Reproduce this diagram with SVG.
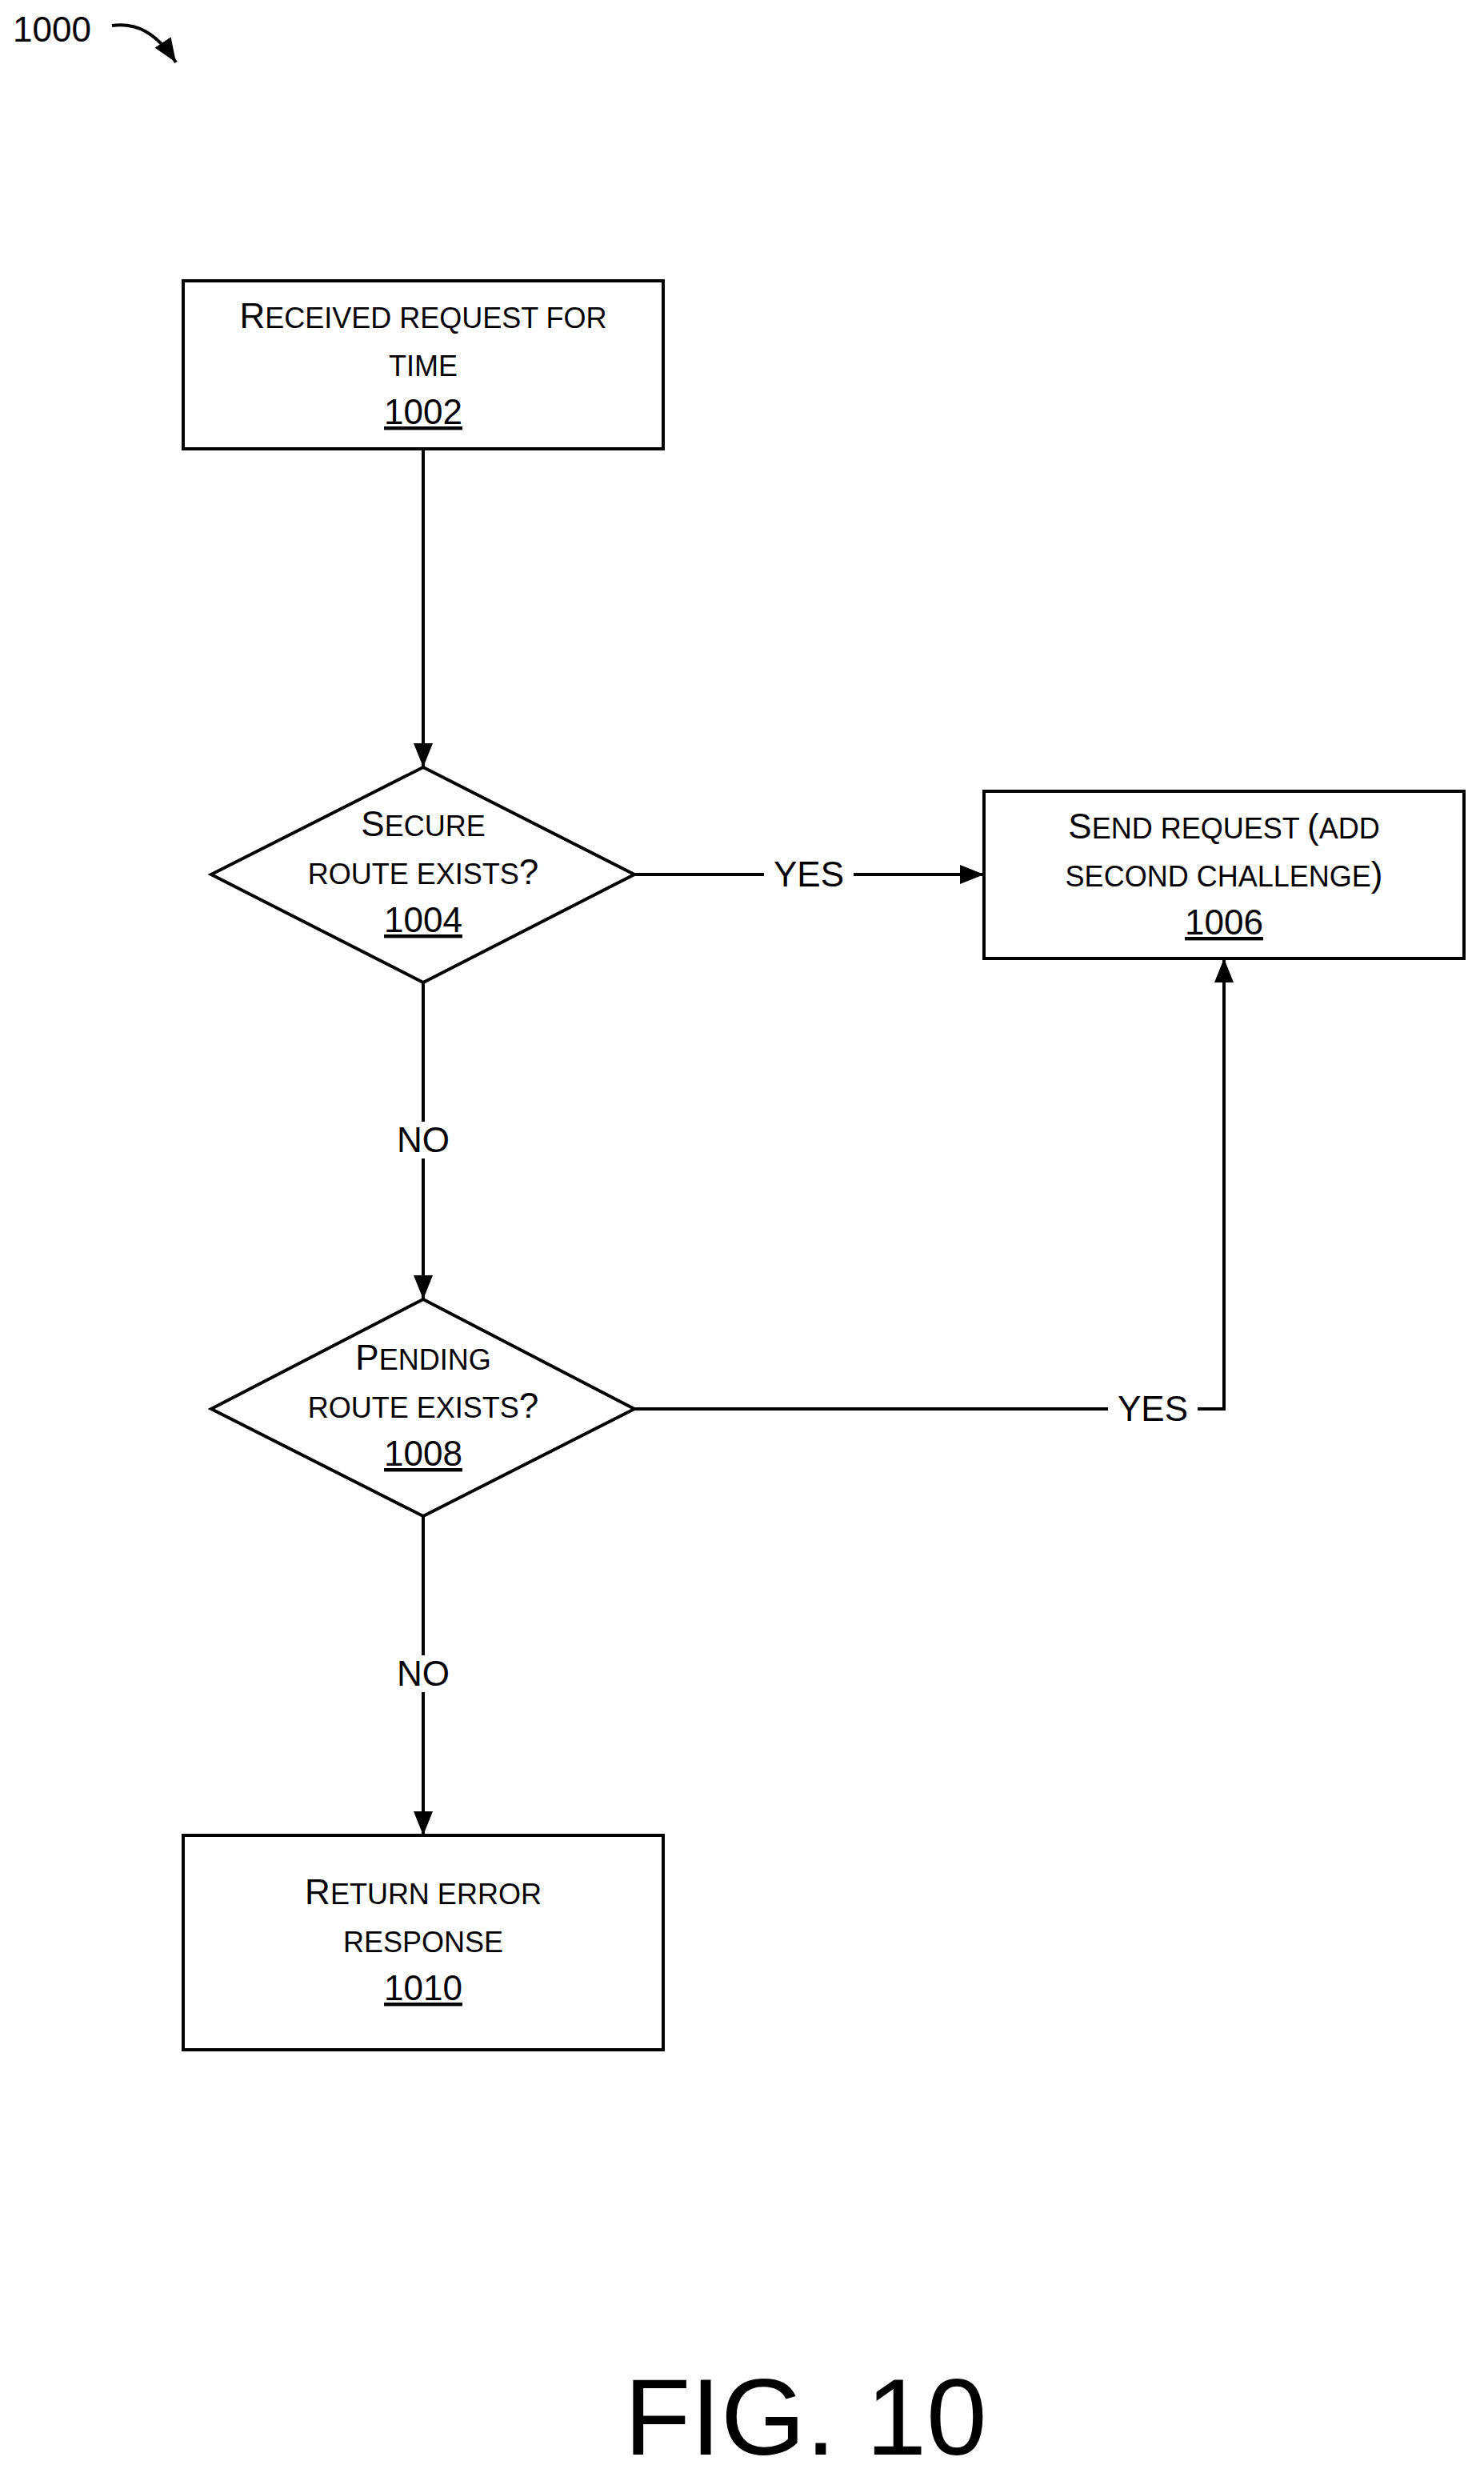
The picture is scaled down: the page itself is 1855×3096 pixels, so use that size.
<svg xmlns="http://www.w3.org/2000/svg" width="1855" height="3096" viewBox="0 0 1855 3096">
<style>
.s{fill:#fff;stroke:#000;stroke-width:4}
.l{fill:none;stroke:#000;stroke-width:4}
text{font-family:"Liberation Sans",Arial,sans-serif;fill:#000;text-anchor:middle;font-size:44px}
.sm{font-size:36px}
.u{text-decoration:underline}
.bg{fill:#fff}
</style>
<defs><marker id="a" markerWidth="10" markerHeight="8" refX="10" refY="4" orient="auto" markerUnits="userSpaceOnUse" viewBox="0 0 10 8"><path d="M0,0L10,4L0,8z"/></marker>
<marker id="ah" viewBox="0 0 10 8" refX="10" refY="4" markerWidth="30" markerHeight="24" orient="auto" markerUnits="userSpaceOnUse"><path d="M0,0L10,4L0,8z"/></marker></defs>
<rect width="1855" height="3096" fill="#fff"/>
<g id="connectors">
<line class="l" x1="529" y1="561" x2="529" y2="959" marker-end="url(#ah)"/>
<line class="l" x1="793" y1="1093" x2="1230" y2="1093" marker-end="url(#ah)"/>
<line class="l" x1="529" y1="1228" x2="529" y2="1624" marker-end="url(#ah)"/>
<polyline class="l" points="793,1761 1530,1761 1530,1198" marker-end="url(#ah)"/>
<line class="l" x1="529" y1="1895" x2="529" y2="2294" marker-end="url(#ah)"/>
<rect class="bg" x="955" y="1070" width="112" height="46"/>
<text x="1011" y="1108">YES</text>
<rect class="bg" x="1385" y="1738" width="112" height="46"/>
<text x="1441" y="1776">YES</text>
<rect class="bg" x="489" y="1402" width="80" height="46"/>
<text x="529" y="1440">NO</text>
<rect class="bg" x="489" y="2069" width="80" height="46"/>
<text x="529" y="2107">NO</text>
<path class="l" d="M140,32 C170,28 195,40 220,78" marker-end="url(#ah)"/>
</g>
<text x="16" y="52" style="text-anchor:start">1000</text>
<g id="n1002"><rect class="s" x="229" y="351" width="600" height="210"/>
<text x="529" y="410">R<tspan class="sm">ECEIVED REQUEST FOR</tspan></text>
<text x="529" y="470" class="sm">TIME</text>
<text x="529" y="530" class="u">1002</text></g>
<g id="n1004"><polygon class="s" points="529,959 793,1093 529,1228 264,1093"/>
<text x="529" y="1045">S<tspan class="sm">ECURE</tspan></text>
<text x="529" y="1105"><tspan class="sm">ROUTE EXISTS</tspan>?</text>
<text x="529" y="1165" class="u">1004</text></g>
<g id="n1006"><rect class="s" x="1230" y="989" width="600" height="209"/>
<text x="1530" y="1048">S<tspan class="sm">END REQUEST </tspan>(<tspan class="sm">ADD</tspan></text>
<text x="1530" y="1108"><tspan class="sm">SECOND CHALLENGE</tspan>)</text>
<text x="1530" y="1168" class="u">1006</text></g>
<g id="n1008"><polygon class="s" points="529,1624 793,1761 529,1895 264,1761"/>
<text x="529" y="1712">P<tspan class="sm">ENDING</tspan></text>
<text x="529" y="1772"><tspan class="sm">ROUTE EXISTS</tspan>?</text>
<text x="529" y="1832" class="u">1008</text></g>
<g id="n1010"><rect class="s" x="229" y="2294" width="600" height="268"/>
<text x="529" y="2380">R<tspan class="sm">ETURN ERROR</tspan></text>
<text x="529" y="2440" class="sm">RESPONSE</text>
<text x="529" y="2500" class="u">1010</text></g>
<text x="1007" y="3068" style="font-size:136px">FIG. 10</text>
</svg>
